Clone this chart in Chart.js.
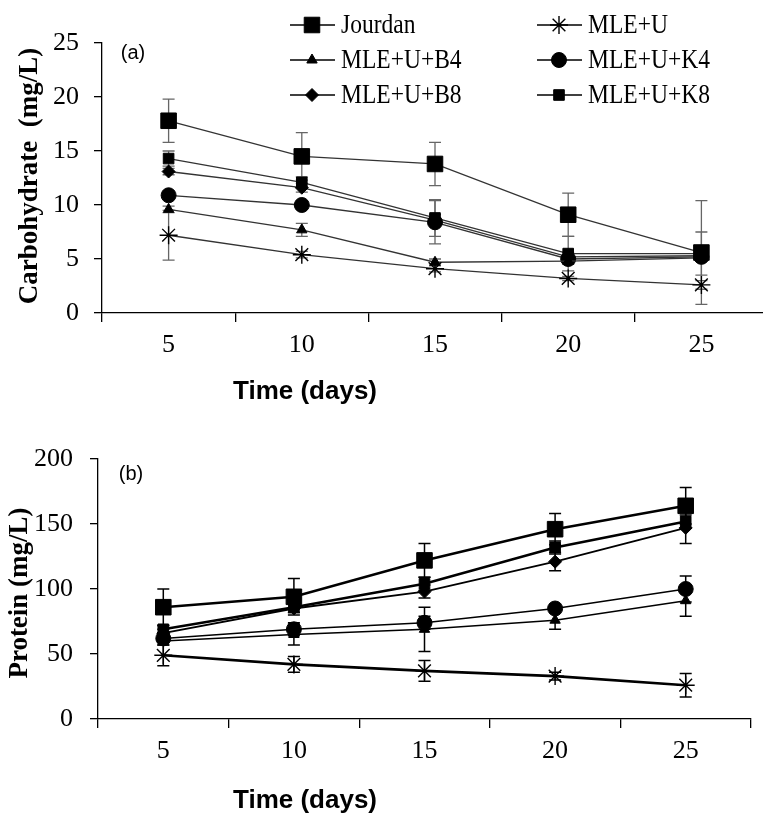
<!DOCTYPE html>
<html>
<head>
<meta charset="utf-8">
<script src="https://cdn.jsdelivr.net/npm/chart.js"></script>
<style>
  html, body { margin: 0; padding: 0; background: #fff; overflow: hidden; }
  #wrapA { position: absolute; left: 0; top: 0; width: 780px; height: 420px; }
  #wrapB { position: absolute; left: 0; top: 420px; width: 763px; height: 401px; }
</style>
</head>
<body>
<div id="wrapA"><canvas id="chartA"></canvas></div>
<div id="wrapB"><canvas id="chartB"></canvas></div>
<script>
const days = ['5', '10', '15', '20', '25'];
const names = ['Jourdan', 'MLE+U', 'MLE+U+B4', 'MLE+U+K4', 'MLE+U+B8', 'MLE+U+K8'];

// (a) carbohydrate (mg/L)
const carbJourdan = [17.8, 14.5, 13.8, 9.1, 5.6];
const carbMleU = [7.2, 5.4, 4.1, 3.2, 2.6];
const carbB4 = [9.6, 7.7, 4.7, 4.8, 5.1];
const carbK4 = [10.9, 10.0, 8.4, 5.0, 5.2];
const carbB8 = [13.1, 11.6, 8.6, 5.2, 5.3];
const carbK8 = [14.3, 12.1, 8.8, 5.5, 5.5];
const carbJourdanErr = [2.0, 2.2, 2.0, 2.0, 4.8];
const carbMleUErr = [2.3, 0.3, 0.3, 0.2, 0.4];
const carbB4Err = [0.3, 0.6, 0.3, 0.3, 0.3];
const carbK4Err = [0.3, 0.4, 2.0, 0.4, 0.4];
const carbB8Err = [0.3, 0.4, 0.5, 0.4, 0.4];
const carbK8Err = [0.7, 0.5, 1.7, 1.6, 2.0];

// (b) protein (mg/L)
const protJourdan = [86, 94, 122, 146, 164];
const protMleU = [49, 42, 37, 33, 26];
const protB4 = [60, 65, 69, 76, 91];
const protK4 = [62, 69, 74, 85, 100];
const protB8 = [66, 85, 98, 121, 147];
const protK8 = [69, 86, 104, 132, 152];
const protJourdanErr = [14, 14, 13, 12, 14];
const protMleUErr = [8, 6, 8, 3, 9];
const protB4Err = [3, 8, 17, 7, 12];
const protK4Err = [3, 5, 5, 3, 10];
const protB8Err = [3, 3, 5, 7, 12];
const protK8Err = [3, 4, 5, 5, 5];

const markers = ['rect', 'star', 'triangle', 'circle', 'rectRot', 'rect'];
const markerSize = [11, 9, 6, 7.5, 6.5, 7.5];

function buildSets(values, errors, lineColor, widths) {
  return values.map((v, i) => ({
    label: names[i],
    data: v,
    errors: errors[i],
    borderColor: lineColor,
    borderWidth: widths[i],
    pointStyle: markers[i],
    pointRadius: markerSize[i],
    pointBackgroundColor: '#000',
    pointBorderColor: '#000',
    pointBorderWidth: markers[i] === 'star' ? 1.4 : 1,
    tension: 0,
    fill: false
  }));
}

// error bars drawn from the y scale
const errorBars = {
  id: 'errorBars',
  beforeDatasetsDraw(chart, args, opts) {
    const ctx = chart.ctx;
    const y = chart.scales.y;
    ctx.save();
    ctx.strokeStyle = opts.color;
    ctx.lineWidth = opts.width;
    chart.data.datasets.forEach((ds, i) => {
      const meta = chart.getDatasetMeta(i);
      meta.data.forEach((pt, j) => {
        const e = ds.errors[j];
        if (!e) return;
        const top = y.getPixelForValue(ds.data[j] + e);
        const bot = y.getPixelForValue(ds.data[j] - e);
        ctx.beginPath();
        ctx.moveTo(pt.x, top); ctx.lineTo(pt.x, bot);
        ctx.moveTo(pt.x - 6, top); ctx.lineTo(pt.x + 6, top);
        ctx.moveTo(pt.x - 6, bot); ctx.lineTo(pt.x + 6, bot);
        ctx.stroke();
      });
    });
    ctx.restore();
  }
};

function drawText(ctx, str, x, y, font, sx, rot) {
  ctx.save();
  ctx.translate(x, y);
  if (rot) ctx.rotate(rot);
  ctx.scale(sx || 1, 1);
  ctx.font = font;
  ctx.fillStyle = '#000';
  ctx.textAlign = 'center';
  ctx.textBaseline = 'middle';
  ctx.fillText(str, 0, 0);
  ctx.restore();
}

// panel letter and axis titles
const panelText = {
  id: 'panelText',
  afterDraw(chart, args, o) {
    const ctx = chart.ctx;
    drawText(ctx, o.tag, o.tagX, o.tagY, '20px "Liberation Sans"');
    drawText(ctx, 'Time (days)', o.xTitleX, o.xTitleY, 'bold 26px "Liberation Sans"');
    drawText(ctx, o.yTitle, o.yTitleX, o.yTitleY, 'bold 27px "Liberation Serif"', 1, -Math.PI / 2);
  }
};

// two-column legend with line and marker
const legendBox = {
  id: 'legendBox',
  afterDraw(chart, args, o) {
    if (!o.show) return;
    const ctx = chart.ctx;
    chart.data.datasets.forEach((ds, i) => {
      const x0 = o.cols[i % 2];
      const y0 = o.rows[Math.floor(i / 2)];
      ctx.save();
      ctx.strokeStyle = '#000';
      ctx.lineWidth = 1.3;
      ctx.beginPath();
      ctx.moveTo(x0, y0); ctx.lineTo(x0 + 45, y0);
      ctx.stroke();
      ctx.fillStyle = '#000';
      ctx.lineWidth = ds.pointBorderWidth;
      if (Chart.helpers && Chart.helpers.drawPoint) {
        Chart.helpers.drawPoint(ctx, { pointStyle: ds.pointStyle, radius: ds.pointRadius, rotation: 0, borderWidth: ds.pointBorderWidth }, x0 + 22, y0);
      }
      ctx.restore();
      ctx.save();
      ctx.font = '28px "Liberation Serif"';
      ctx.fillStyle = '#000';
      ctx.textBaseline = 'middle';
      ctx.translate(x0 + 51, y0 + 1);
      ctx.scale(0.84, 1);
      ctx.fillText(ds.label, 0, 0);
      ctx.restore();
    });
  }
};

function axes(yMax, yStep, xHeight, yWidth, tickPad) {
  const tickFont = { family: 'Liberation Serif', size: 26 };
  return {
    x: {
      type: 'category',
      offset: true,
      grid: { offset: true, drawOnChartArea: false, tickLength: 9, color: '#000', lineWidth: 1.3 },
      border: { color: '#000', width: 1.3 },
      ticks: { font: tickFont, color: '#000', padding: 8, maxRotation: 0 },
      afterFit: s => { s.height = xHeight; }
    },
    y: {
      min: 0,
      max: yMax,
      grid: { drawOnChartArea: false, tickLength: 8, color: '#000', lineWidth: 1.3 },
      border: { color: '#000', width: 1.3 },
      ticks: { stepSize: yStep, font: tickFont, color: '#000', padding: tickPad },
      afterFit: s => { s.width = yWidth; }
    }
  };
}

new Chart(document.getElementById('chartA'), {
  type: 'line',
  data: {
    labels: days,
    datasets: buildSets(
      [carbJourdan, carbMleU, carbB4, carbK4, carbB8, carbK8],
      [carbJourdanErr, carbMleUErr, carbB4Err, carbK4Err, carbB8Err, carbK8Err],
      '#333', [1.3, 1.3, 1.3, 1.3, 1.3, 1.3])
  },
  options: {
    responsive: true,
    maintainAspectRatio: false,
    animation: false,
    layout: { padding: { top: 43, right: 8, left: 0, bottom: 0 } },
    scales: axes(25, 5, 107, 102, 15),
    plugins: {
      legend: { display: false },
      tooltip: { enabled: false },
      errorBars: { color: '#666', width: 1.3 },
      panelText: { tag: '(a)', tagX: 133, tagY: 53, xTitleX: 305, xTitleY: 392, yTitle: 'Carbohydrate  (mg/L)', yTitleX: 30, yTitleY: 176 },
      legendBox: { show: true, cols: [290, 537], rows: [25, 60, 95] }
    }
  },
  plugins: [errorBars, panelText, legendBox]
});

new Chart(document.getElementById('chartB'), {
  type: 'line',
  data: {
    labels: days,
    datasets: buildSets(
      [protJourdan, protMleU, protB4, protK4, protB8, protK8],
      [protJourdanErr, protMleUErr, protB4Err, protK4Err, protB8Err, protK8Err],
      '#000', [2.6, 2.6, 1.5, 1.5, 1.8, 2.6])
  },
  options: {
    responsive: true,
    maintainAspectRatio: false,
    animation: false,
    layout: { padding: { top: 39, right: 5, left: 0, bottom: 0 } },
    scales: axes(200, 50, 102, 98, 17),
    plugins: {
      legend: { display: false },
      tooltip: { enabled: false },
      errorBars: { color: '#000', width: 1.5 },
      panelText: { tag: '(b)', tagX: 131, tagY: 54, xTitleX: 305, xTitleY: 381, yTitle: 'Protein (mg/L)', yTitleX: 20, yTitleY: 173 },
      legendBox: { show: false }
    }
  },
  plugins: [errorBars, panelText, legendBox]
});
</script>
</body>
</html>
